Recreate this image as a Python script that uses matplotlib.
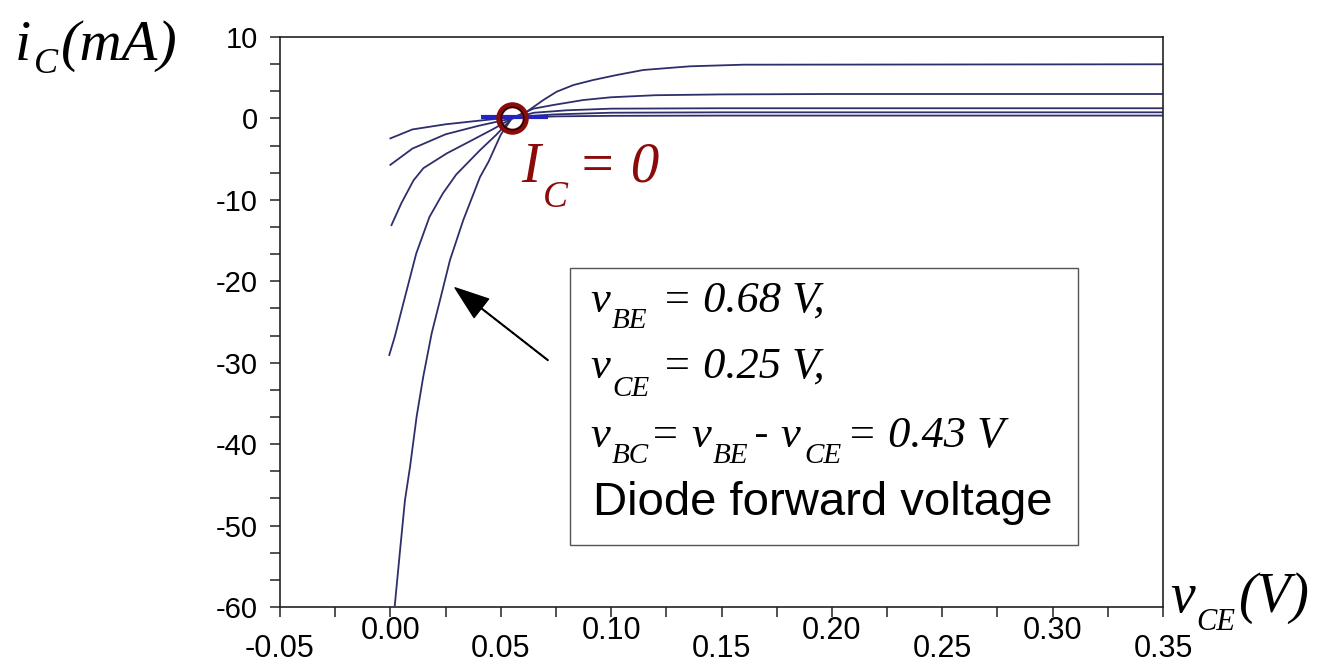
import numpy as np
import matplotlib
matplotlib.use('Agg')
import matplotlib.pyplot as plt
from matplotlib.ticker import MultipleLocator
from matplotlib.patches import Rectangle

plt.rcParams['font.family'] = ['Liberation Sans', 'DejaVu Sans']
plt.rcParams['axes.unicode_minus'] = False

# i_C vs v_CE curves (v_CE in V, i_C in mA)
x1 = [0.000, 0.010, 0.025, 0.040, 0.050, 0.060, 0.075, 0.100, 0.150, 0.350]
y1 = [-2.45, -1.35, -0.72, -0.28, 0.00, 0.12, 0.25, 0.32, 0.35, 0.35]

x2 = [0.000, 0.010, 0.025, 0.040, 0.050, 0.060, 0.075, 0.100, 0.150, 0.350]
y2 = [-5.7, -3.7, -1.95, -0.9, -0.3, 0.25, 0.5, 0.7, 0.75, 0.75]

x3 = [0.0005, 0.005, 0.0105, 0.015, 0.0255, 0.0375, 0.0466, 0.055, 0.065, 0.080, 0.100, 0.150, 0.350]
y3 = [-13.1, -10.4, -7.6, -6.1, -4.3, -2.6, -1.3, 0.0, 0.7, 1.0, 1.2, 1.25, 1.25]

x4 = [-0.0005, 0.002, 0.0055, 0.0117, 0.0177, 0.0238, 0.0298, 0.0406, 0.048, 0.055,
      0.0648, 0.0738, 0.0874, 0.100, 0.120, 0.150, 0.200, 0.350]
y4 = [-29.05, -26.8, -23.1, -16.6, -12.1, -9.2, -6.9, -3.9, -2.0, 0.0,
      1.2, 1.65, 2.26, 2.6, 2.85, 2.95, 3.0, 3.0]

x5 = [0.002, 0.0044, 0.0066, 0.0089, 0.0119, 0.0149, 0.0187, 0.0225, 0.027, 0.033,
      0.0406, 0.0445, 0.050, 0.055, 0.0618, 0.0693, 0.0753, 0.0829, 0.0919, 0.1025,
      0.1146, 0.1357, 0.160, 0.350]
y5 = [-59.8, -53.0, -46.9, -42.8, -36.6, -31.7, -26.4, -22.3, -17.4, -12.5,
      -7.2, -5.3, -2.0, 0.0, 0.83, 2.26, 3.28, 4.1, 4.72, 5.33,
      5.95, 6.4, 6.6, 6.65]

curves = [(x1, y1), (x2, y2), (x3, y3), (x4, y4), (x5, y5)]

# overlapping bit near i_C = 0
zero_x = [0.041, 0.0715]
zero_y = [0.15, 0.15]

# operating point
op_x = 0.0551
op_y = 0.0

xticks = [-0.05, 0.00, 0.05, 0.10, 0.15, 0.20, 0.25, 0.30, 0.35]
yticks = [10, 0, -10, -20, -30, -40, -50, -60]

W, H = 1323, 672
fig = plt.figure(figsize=(W / 100, H / 100), dpi=100)
ax = fig.add_axes([280 / W, 1 - 607 / H, 883 / W, 570 / H])

line_col = '#2e2e6c'
for xs, ys in curves:
    ax.plot(xs, ys, color=line_col, lw=1.3)
ax.plot(zero_x, zero_y, color='#2424c4', lw=3, solid_capstyle='butt')

# circle round the operating point
ax.plot(op_x, op_y, 'o', ms=19, mfc='none', mec='#8b0b0b', mew=4.4, zorder=5)
ax.plot(op_x, op_y, 'o', ms=16.5, mfc='none', mec='black', mew=0.8, zorder=6)

ax.set_xlim(-0.05, 0.35)
ax.set_ylim(-60, 10)
ax.set_yticks(yticks)
ax.yaxis.set_minor_locator(MultipleLocator(10 / 3))
ax.set_xticks(xticks)
ax.xaxis.set_minor_locator(MultipleLocator(0.025))
ax.set_xticklabels([])
ax.tick_params(which='both', direction='out', length=7, width=1.1, color='#222222')
ax.tick_params(axis='y', labelsize=21, pad=9)
for s in ax.spines.values():
    s.set_linewidth(1.2)
    s.set_color('#222222')

# staggered x tick labels
for i, t in enumerate(xticks):
    yy = -0.048 if i % 2 == 0 else -0.016
    ax.text(t, yy, '%.2f' % t, transform=ax.get_xaxis_transform(),
            ha='center', va='top', fontsize=22)

# arrow pointing at the steep curve
ax.annotate('', xy=(0.0293, -20.8), xytext=(0.0714, -29.7),
            arrowprops=dict(facecolor='black', edgecolor='black', width=0.5,
                            headwidth=17, headlength=24, shrink=0))


def put(px, py, s, size, **kw):
    # place text by pixel position (baseline)
    fig.text(px / W, 1 - py / H, s, fontsize=size, va='baseline', **kw)


def it(px, py, s, size, **kw):
    put(px, py, s, size, family='Liberation Serif', style='italic', **kw)


# axis labels
it(15, 60, 'i', 42)
it(34, 73, 'C', 26)
it(61, 60, '(mA)', 42)

it(1170, 612, 'v', 40)
it(1196, 630, 'CE', 22)
it(1238, 612, '(V)', 40)

red = '#8b0b0b'
it(521, 182, 'I', 41, color=red)
it(543, 207, 'C', 27, color=red)
it(578, 182, '= 0', 41, color=red)

# text box
fig.patches.append(Rectangle((570 / W, 1 - 545 / H), (1078 - 570) / W, (545 - 268) / H,
                             transform=fig.transFigure, fill=False,
                             edgecolor='#555555', lw=1.0))
big, sub = 32, 21
it(590, 312, 'v', big)
it(612, 328, 'BE', sub)
it(662, 312, '= 0.68 V,', big)

it(590, 378, 'v', big)
it(612, 396, 'CE', sub)
it(662, 378, '= 0.25 V,', big)

it(590, 447, 'v', big)
it(612, 463, 'BC', sub)
it(650, 447, '=', big)
it(691, 447, 'v', big)
it(713, 463, 'BE', sub)
put(754, 447, '-', big)
it(780, 447, 'v', big)
it(804, 463, 'CE', sub)
it(847, 447, '= 0.43 V', big)

put(593, 515, 'Diode forward voltage', 34)

fig.savefig('out.png', dpi=100)
